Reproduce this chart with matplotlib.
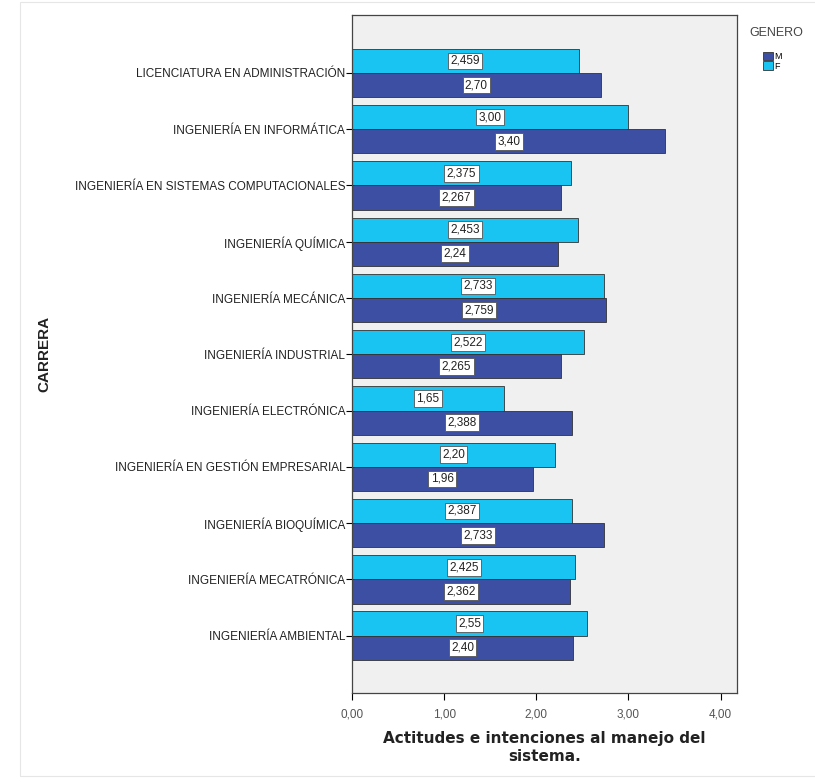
import numpy as np
import matplotlib.pyplot as plt
from matplotlib.patches import Rectangle

carreras = [
    'LICENCIATURA EN ADMINISTRACIÓN',
    'INGENIERÍA EN INFORMÁTICA',
    'INGENIERÍA EN SISTEMAS COMPUTACIONALES',
    'INGENIERÍA QUÍMICA',
    'INGENIERÍA MECÁNICA',
    'INGENIERÍA INDUSTRIAL',
    'INGENIERÍA ELECTRÓNICA',
    'INGENIERÍA EN GESTIÓN EMPRESARIAL',
    'INGENIERÍA BIOQUÍMICA',
    'INGENIERÍA MECATRÓNICA',
    'INGENIERÍA AMBIENTAL',
]
valores_f = [2.459, 3.00, 2.375, 2.453, 2.733, 2.522, 1.65, 2.20, 2.387, 2.425, 2.55]
valores_m = [2.70, 3.40, 2.267, 2.24, 2.759, 2.265, 2.388, 1.96, 2.733, 2.362, 2.40]
etiquetas_f = ['2,459', '3,00', '2,375', '2,453', '2,733', '2,522', '1,65', '2,20', '2,387', '2,425', '2,55']
etiquetas_m = ['2,70', '3,40', '2,267', '2,24', '2,759', '2,265', '2,388', '1,96', '2,733', '2,362', '2,40']
x_ticks = [0, 1, 2, 3, 4]
x_ticklabels = ['0,00', '1,00', '2,00', '3,00', '4,00']

color_m = '#3d4fa3'
color_f = '#19c4f3'

plt.rcParams['font.family'] = ['Liberation Sans', 'DejaVu Sans']

fig = plt.figure(figsize=(8.15, 7.82), dpi=100)
ax = fig.add_axes([0.432, 0.1138, 0.4724, 0.867])
ax.set_facecolor('#f0f0f0')

y = np.arange(len(carreras))
h = 0.43
bars_f = ax.barh(y - h / 2, valores_f, height=h, color=color_f, edgecolor='#333333', linewidth=0.6, label='F')
bars_m = ax.barh(y + h / 2, valores_m, height=h, color=color_m, edgecolor='#333333', linewidth=0.6, label='M')

box = dict(boxstyle='square,pad=0.2', fc='white', ec='#555555', lw=0.6)
for bars, labs in [(bars_f, etiquetas_f), (bars_m, etiquetas_m)]:
    for b, t in zip(bars, labs):
        ax.text(b.get_width() / 2, b.get_y() + b.get_height() / 2, t,
                ha='center', va='center', fontsize=8.5, color='#222222', bbox=box)

ax.set_xlim(0, 4.18)
ax.set_ylim(len(carreras) - 1 + h + 0.59, -h - 0.6)
ax.set_yticks(y)
ax.set_yticklabels(carreras, fontsize=8.5, color='#222222')
ax.set_xticks(x_ticks)
ax.set_xticklabels(x_ticklabels, fontsize=8.5, color='#555555')
ax.tick_params(axis='y', length=4, width=0.8, pad=1)
ax.tick_params(axis='x', length=5, width=0.8, pad=6)
for s in ax.spines.values():
    s.set_color('#444444')
    s.set_linewidth(0.9)

ax.set_xlabel('Actitudes e intenciones al manejo del\nsistema.', fontsize=11,
              fontweight='bold', fontfamily='DejaVu Sans', color='#222222', labelpad=8,
              linespacing=1.25)
fig.text(0.055, 0.547, 'CARRERA', rotation=90, fontsize=11, fontweight='bold',
         ha='center', va='center', color='#222222')

# legend
fig.text(0.919, 0.958, 'GENERO', fontsize=9, color='#444444', ha='left', va='center')
leg = fig.legend(handles=[bars_m, bars_f], labels=['M', 'F'], loc='upper left',
                 bbox_to_anchor=(0.936, 0.934), frameon=False, fontsize=6.5,
                 handlelength=1.1, handleheight=1.1, handletextpad=0.2,
                 labelspacing=0.05, borderpad=0, borderaxespad=0)

fig.patches.append(Rectangle((0.025, 0.008), 0.99, 0.99, transform=fig.transFigure,
                             fill=False, ec='#e6e6e6', lw=0.8))

fig.savefig('out.png', dpi=100)
